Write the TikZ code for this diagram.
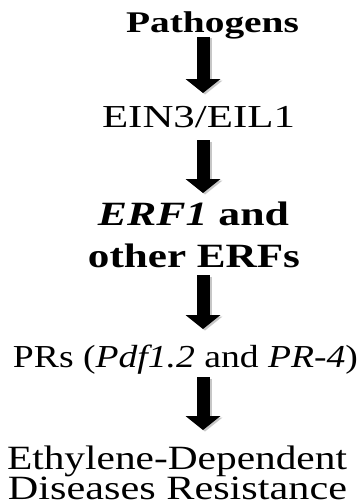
\documentclass[tikz,border=0pt]{standalone}
\usepackage{fontspec}
\setmainfont{Liberation Serif}
\usetikzlibrary{arrows.meta}
\tikzset{
  label/.style={anchor=base, inner sep=0pt, outer sep=0pt},
  bigarrow/.style={line width=13pt, -{Triangle[width=35pt,length=14pt,line width=0pt]}},
  shadowarrow/.style={bigarrow, draw=black!22, transform canvas={xshift=2pt,yshift=-1.5pt}},
}
% text set in a fixed size and stretched to a given width
\newcommand{\wtext}[3]{\resizebox{#1}{\height}{\fontsize{#2}{#2}\selectfont #3}}
\begin{document}
\begin{tikzpicture}[x=1pt, y=-1pt]
  \useasboundingbox (0,0) rectangle (361,503);

  \node[label] (path) at (212.5,33) {\wtext{173pt}{30}{\bfseries Pathogens}};
  \node[label] (ein)  at (198.5,127) {\wtext{193pt}{32}{EIN3/EIL1}};
  \node[label] (erfa) at (193.5,225) {\wtext{191pt}{34}{\bfseries\itshape ERF1\upshape{} and}};
  \node[label] (erfb) at (194,267) {\wtext{212pt}{34}{\bfseries other ERFs}};
  \node[label] (prs)  at (185.5,367) {\wtext{345pt}{32}{PRs (\textit{Pdf1.2} and \textit{PR-4})}};
  \node[label] (ethA) at (177,469) {\wtext{340pt}{34}{Ethylene-Dependent}};
  \node[label] (ethB) at (177.5,499) {\wtext{339pt}{34}{Diseases Resistance}};

  % arrow end points between the labels
  \coordinate (s1) at (203,37);  \coordinate (t1) at (203,93);
  \coordinate (s2) at (203,140); \coordinate (t2) at (203,193);
  \coordinate (s3) at (203,275); \coordinate (t3) at (203,329);
  \coordinate (s4) at (203,377); \coordinate (t4) at (203,430);

  \foreach \i in {1,2,3,4} {
    \draw[shadowarrow] (s\i) -- (t\i);
    \draw[bigarrow] (s\i) -- (t\i);
  }
\end{tikzpicture}
\end{document}
